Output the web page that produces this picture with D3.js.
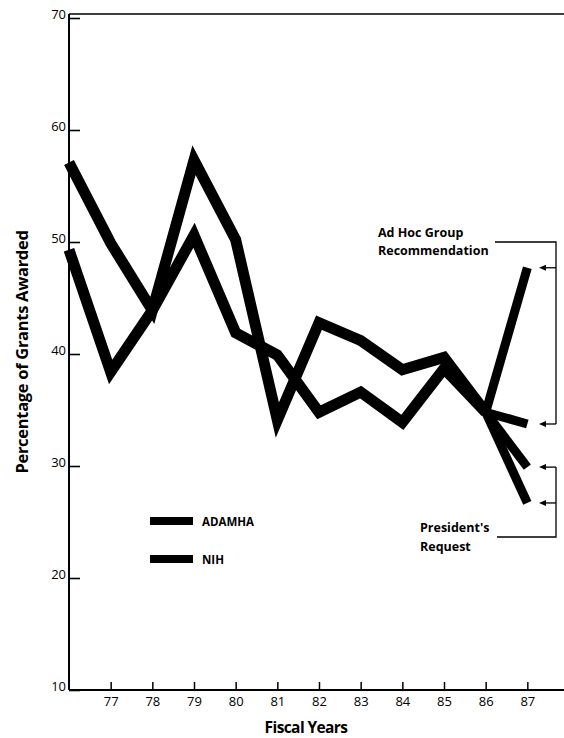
<!DOCTYPE html>
<html><head><meta charset="utf-8">
<script src="https://cdn.jsdelivr.net/npm/d3@7"></script>
<style>
html,body{margin:0;padding:0;background:#fff;}
svg{display:block;}
text{font-family:"Open Sans","DejaVu Sans",sans-serif;fill:#000;}
</style></head>
<body>
<script>
// ---- data ----
const years = [76, 77, 78, 79, 80, 81, 82, 83, 84, 85, 86];
const xTickLabels = [77, 78, 79, 80, 81, 82, 83, 84, 85, 86, 87];
const yTicks = [10, 20, 30, 40, 50, 60, 70];
const seriesNames = ["ADAMHA", "NIH"];
const adamha = [57.1, 49.9, 43.9, 57.3, 50.2, 34.1, 42.8, 41.2, 38.6, 39.7, 34.8];
const nih = [49.3, 38.4, 43.9, 50.6, 41.9, 39.9, 34.8, 36.6, 33.9, 38.7, 34.8];
const projYear = 87;
// FY87: Ad Hoc Group Recommendation vs President's Request
const adamhaProj = { recommendation: 33.75, request: 29.9 };
const nihProj = { recommendation: 47.7, request: 26.7 };

const W = 564, H = 738;
const svg = d3.select("body").append("svg").attr("width", W).attr("height", H);

const x = d3.scaleLinear().domain([76, 88]).range([69, 569]);
const y = d3.scaleLinear().domain([10, 70]).range([690, 18]);
const frameTop = 14, frameRight = 564;

// frame top line
svg.append("line").attr("x1", x(76)).attr("x2", frameRight).attr("y1", frameTop).attr("y2", frameTop)
  .attr("stroke", "#000").attr("stroke-width", 1.5);

// y axis
const yAxis = svg.append("g").attr("transform", `translate(${x(76)},0)`)
  .call(d3.axisRight(y).tickValues(yTicks).tickSize(11).tickFormat(d3.format("d")));
yAxis.select(".domain").remove();
yAxis.selectAll(".tick line").attr("stroke", "#000").attr("stroke-width", 1.6);
yAxis.selectAll(".tick text").attr("x", -3).attr("dy", "0").attr("text-anchor", "end")
  .style("font-size", "13px");
svg.append("line").attr("x1", x(76)).attr("x2", x(76)).attr("y1", frameTop).attr("y2", y(10))
  .attr("stroke", "#000").attr("stroke-width", 2);

// x axis
const xAxis = svg.append("g").attr("transform", `translate(0,${y(10)})`)
  .call(d3.axisTop(x).tickValues(xTickLabels).tickSize(8).tickFormat(d3.format("d")));
xAxis.select(".domain").remove();
xAxis.selectAll(".tick line").attr("stroke", "#000").attr("stroke-width", 1.5);
xAxis.selectAll(".tick text").attr("y", 16).attr("dy", "0").style("font-size", "13px");
svg.append("line").attr("x1", x(76)).attr("x2", frameRight).attr("y1", y(10)).attr("y2", y(10))
  .attr("stroke", "#000").attr("stroke-width", 2);

// axis titles
svg.append("text").attr("x", 306).attr("y", 733).attr("text-anchor", "middle")
  .style("font-size", "15.5px").style("font-weight", "bold").style("letter-spacing", "-0.6px")
  .text("Fiscal Years");
svg.append("text").attr("transform", "translate(28,352) rotate(-90)").attr("text-anchor", "middle")
  .style("font-size", "16.5px").style("font-weight", "bold").style("letter-spacing", "-0.3px")
  .text("Percentage of Grants Awarded");

// lines
const line = d3.line().x(d => x(d[0])).y(d => y(d[1]));
const g = svg.append("g").attr("fill", "none").attr("stroke", "#000").attr("stroke-width", 11)
  .attr("stroke-linejoin", "miter").attr("stroke-miterlimit", 6);

[[adamha, adamhaProj], [nih, nihProj]].forEach(([vals, proj]) => {
  const pts = years.map((yr, i) => [yr, vals[i]]);
  g.append("path").attr("d", line(pts));
  const last = pts[pts.length - 1];
  ["recommendation", "request"].forEach(k => {
    g.append("path").attr("d", line([last, [projYear, proj[k]]])).attr("stroke-width", 9);
  });
});

// legend
const legend = svg.append("g");
seriesNames.forEach((name, i) => {
  const ly = 521 + i * 38;
  legend.append("line").attr("x1", 150).attr("x2", 193).attr("y1", ly).attr("y2", ly)
    .attr("stroke", "#000").attr("stroke-width", 8);
  legend.append("text").attr("x", 202).attr("y", ly + 4.5)
    .style("font-size", "11.5px").style("font-weight", "bold").text(name);
});

// annotations
const ann = svg.append("g").style("font-size", "12.5px").style("font-weight", "bold");
ann.append("text").attr("x", 378).attr("y", 237).text("Ad Hoc Group");
ann.append("text").attr("x", 378).attr("y", 255).text("Recommendation");
ann.append("text").attr("x", 420).attr("y", 532).text("President's");
ann.append("text").attr("x", 420).attr("y", 551).text("Request");

const br = svg.append("g").attr("stroke", "#000").attr("stroke-width", 1.3).attr("fill", "none");
const bx = 556;
// Ad Hoc bracket
br.append("path").attr("d", `M495,242 H${bx} V${y(adamhaProj.recommendation)}`);
// President's bracket
br.append("path").attr("d", `M497,537 H${bx} V${y(adamhaProj.request)}`);

function arrow(v) {
  const ay = y(v);
  svg.append("line").attr("x1", bx).attr("x2", 544).attr("y1", ay).attr("y2", ay)
    .attr("stroke", "#000").attr("stroke-width", 1.3);
  svg.append("path").attr("d", `M539,${ay} L546,${ay - 3} L546,${ay + 3} Z`).attr("fill", "#000");
}
[nihProj.recommendation, adamhaProj.recommendation, adamhaProj.request, nihProj.request].forEach(arrow);
</script>
</body></html>
